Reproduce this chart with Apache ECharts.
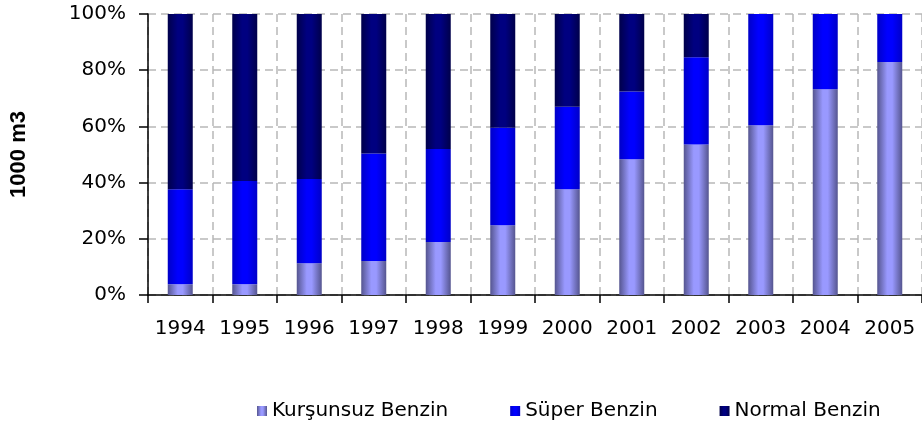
<!DOCTYPE html>
<html>
<head>
<meta charset="utf-8">
<script src="https://cdn.jsdelivr.net/npm/echarts@6/dist/echarts.min.js"></script>
<style>
  html, body { margin: 0; padding: 0; background: #fff; }
  #chart { width: 922px; height: 423px; }
</style>
</head>
<body>
<div id="chart"></div>
<script>
var years = ['1994', '1995', '1996', '1997', '1998', '1999', '2000', '2001', '2002', '2003', '2004', '2005']
// shares in percent
var kursunsuz = [3.8, 3.8, 11.3, 12.1, 18.9, 24.8, 37.6, 48.3, 53.6, 60.4, 73.2, 82.9]
var super_ = [33.8, 36.8, 30.0, 38.3, 33.1, 34.7, 29.4, 24.1, 31.0, 39.6, 26.8, 17.1]
var normal = [62.4, 59.4, 58.7, 49.6, 48.0, 40.5, 33.0, 27.6, 15.4, 0, 0, 0]
var yTicks = [0, 20, 40, 60, 80, 100]

var font = 'DejaVu Sans'

function shade(edge, mid) {
  return {
    type: 'linear', x: 0, y: 0, x2: 1, y2: 0,
    colorStops: [
      { offset: 0, color: edge },
      { offset: 0.4, color: mid },
      { offset: 0.6, color: mid },
      { offset: 1, color: edge }
    ]
  }
}

var chart = echarts.init(document.getElementById('chart'))
var dash = { color: '#b8b8b8', width: 1.5, type: [8, 5] }

chart.setOption({
  animation: false,
  grid: { left: 148, top: 14, right: -5, bottom: 128 },
  legend: {
    left: 252,
    top: 396,
    itemWidth: 10,
    itemHeight: 10,
    itemGap: 62,
    icon: 'rect',
    textStyle: { fontFamily: font, fontSize: 20, color: '#000' },
    data: ['Kurşunsuz Benzin', 'Süper Benzin', 'Normal Benzin']
  },
  xAxis: {
    type: 'category',
    data: years,
    boundaryGap: true,
    axisLine: { lineStyle: { color: '#000', width: 1.5 } },
    axisTick: { show: true, length: 8, lineStyle: { color: '#000', width: 1.5 } },
    axisLabel: { fontFamily: font, fontSize: 20, color: '#000', margin: 24, interval: 0 },
    splitLine: { show: true, lineStyle: dash }
  },
  yAxis: {
    type: 'value',
    min: yTicks[0],
    max: yTicks[yTicks.length - 1],
    interval: 20,
    name: '1000 m3',
    nameLocation: 'middle',
    nameGap: 118,
    nameRotate: 90,
    nameTextStyle: { fontFamily: 'Liberation Sans', fontSize: 22, fontWeight: 'bold', color: '#000' },
    axisLine: { show: true, lineStyle: { color: '#000', width: 1.5 } },
    axisTick: { show: true, length: 9, lineStyle: { color: '#000', width: 1.5 } },
    axisLabel: { fontFamily: font, fontSize: 20, color: '#000', margin: 22, formatter: '{value}%' },
    splitLine: { show: true, lineStyle: dash }
  },
  series: [
    {
      name: 'Kurşunsuz Benzin',
      type: 'bar',
      stack: 'total',
      barWidth: 25,
      itemStyle: { color: shade('#55558f', '#9999ff') },
      data: kursunsuz
    },
    {
      name: 'Süper Benzin',
      type: 'bar',
      stack: 'total',
      barWidth: 25,
      itemStyle: { color: shade('#0000c8', '#0000ff') },
      data: super_
    },
    {
      name: 'Normal Benzin',
      type: 'bar',
      stack: 'total',
      barWidth: 25,
      itemStyle: { color: shade('#00004a', '#000080') },
      data: normal
    }
  ]
})
</script>
</body>
</html>
